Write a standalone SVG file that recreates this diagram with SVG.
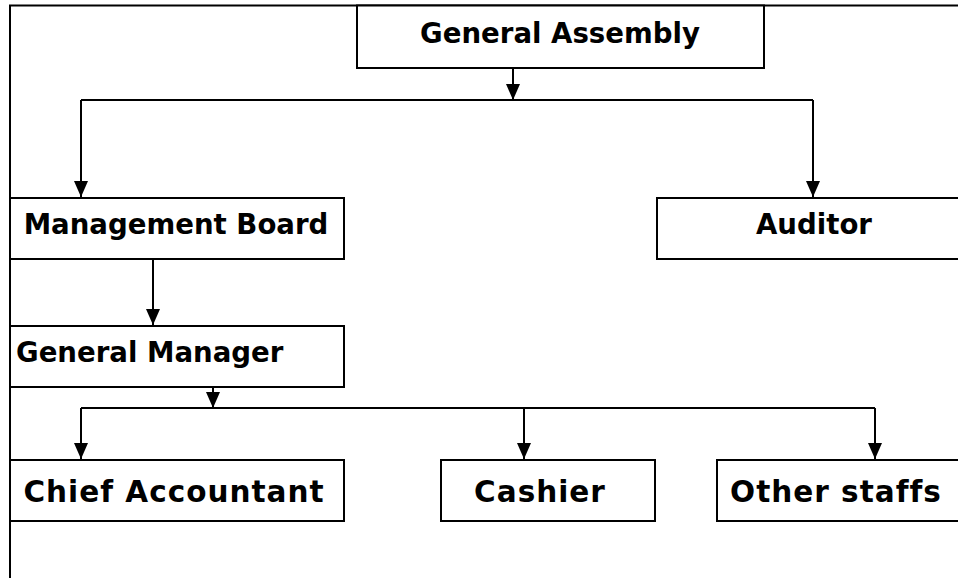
<svg xmlns="http://www.w3.org/2000/svg" width="958" height="578" viewBox="0 0 958 578">
<style>
.box{fill:#fff;stroke:#000;stroke-width:2}
.lbl{font-family:"DejaVu Sans","Verdana",sans-serif;font-weight:bold;font-size:27.6px;fill:#000}
.lbl2{font-family:"DejaVu Sans","Verdana",sans-serif;font-weight:bold;font-size:29.5px;letter-spacing:1px;fill:#000}
.c{stroke:#000;stroke-width:2;fill:none}
</style>
<defs>
<marker id="ah" viewBox="0 0 16 14" refX="16" refY="7" markerWidth="16" markerHeight="14" markerUnits="userSpaceOnUse" orient="auto">
<path d="M0,0 L16,7 L0,14 z" fill="#000"/>
</marker>
</defs>
<rect width="958" height="578" fill="#fff"/>
<path class="c" d="M10,578 V5.5 H958"/>
<g id="connectors">
<path class="c" d="M513,68 V100" marker-end="url(#ah)"/>
<path class="c" d="M81,100 H813"/>
<path class="c" d="M81,100 V197" marker-end="url(#ah)"/>
<path class="c" d="M813,100 V197" marker-end="url(#ah)"/>
<path class="c" d="M153,259 V325" marker-end="url(#ah)"/>
<path class="c" d="M213,387 V408" marker-end="url(#ah)"/>
<path class="c" d="M81,408 H875"/>
<path class="c" d="M81,408 V459" marker-end="url(#ah)"/>
<path class="c" d="M524,408 V459" marker-end="url(#ah)"/>
<path class="c" d="M875,408 V459" marker-end="url(#ah)"/>
</g>
<g id="general-assembly">
<rect class="box" x="357" y="5.5" width="407" height="62.5"/>
<text class="lbl" x="560" y="43" text-anchor="middle">General Assembly</text>
</g>
<g id="management-board">
<rect class="box" x="10" y="198" width="334" height="61"/>
<text class="lbl" x="176" y="234" text-anchor="middle">Management Board</text>
</g>
<g id="auditor">
<rect class="box" x="657" y="198" width="302" height="61"/>
<text class="lbl" x="814" y="234" text-anchor="middle">Auditor</text>
</g>
<g id="general-manager">
<rect class="box" x="10" y="326" width="334" height="61"/>
<text class="lbl" x="16" y="362">General Manager</text>
</g>
<g id="chief-accountant">
<rect class="box" x="10" y="460" width="334" height="61"/>
<text class="lbl2" x="174" y="502" text-anchor="middle">Chief Accountant</text>
</g>
<g id="cashier">
<rect class="box" x="441" y="460" width="214" height="61"/>
<text class="lbl2" x="540" y="502" text-anchor="middle">Cashier</text>
</g>
<g id="other-staffs">
<rect class="box" x="717" y="460" width="242" height="61"/>
<text class="lbl2" x="836" y="502" text-anchor="middle">Other staffs</text>
</g>
</svg>
